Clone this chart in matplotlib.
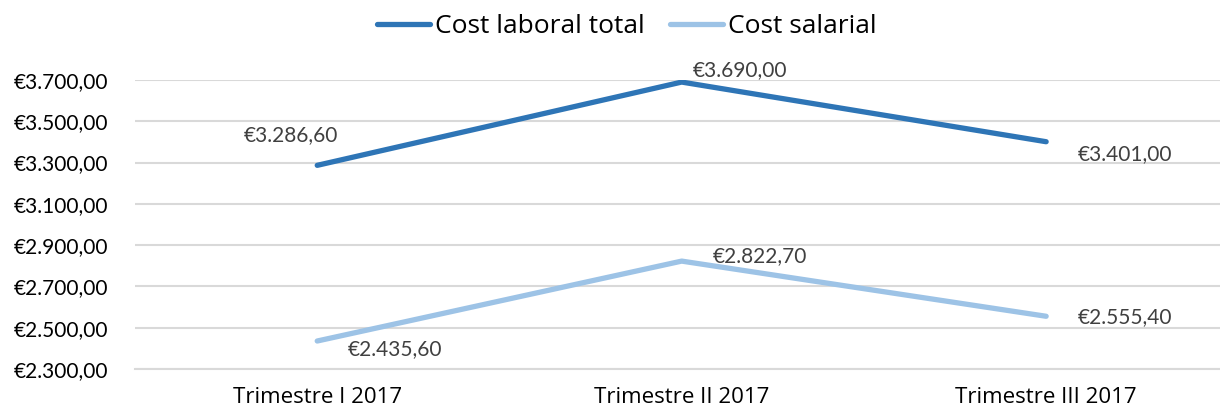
import matplotlib.pyplot as plt
from matplotlib.ticker import FuncFormatter

# ----------------------------
# Data
# ----------------------------
quarters = ["Trimestre I 2017", "Trimestre II 2017", "Trimestre III 2017"]
cost_laboral = [3286.60, 3690.00, 3401.00]
cost_salarial = [2435.60, 2822.70, 2555.40]
series_names = ["Cost laboral total", "Cost salarial"]

# label offsets in pixels (dx, dy) for each point
offsets_laboral = [(-26, 30), (58, 12), (79, -12)]
offsets_salarial = [(78, -8), (78, 5), (79, -1)]

DARK = "#2E75B6"
LIGHT = "#9DC3E6"
NUM_FONT = ["Lato", "DejaVu Sans"]


def euro(v, pos=None):
    s = f"{v:,.2f}"  # 3,286.60
    s = s.replace(",", "X").replace(".", ",").replace("X", ".")
    return "€" + s


plt.rcParams["font.family"] = ["Open Sans", "DejaVu Sans"]

fig = plt.figure(figsize=(12.2, 4.09), dpi=100)
ax = fig.add_axes([135 / 1220, 1 - 369 / 409, 1085 / 1220, (369 - 80) / 409])

x = range(len(quarters))
l1, = ax.plot(x, cost_laboral, color=DARK, lw=3.8, solid_capstyle="round", label=series_names[0])
l2, = ax.plot(x, cost_salarial, color=LIGHT, lw=3.8, solid_capstyle="round", label=series_names[1])

for xs, ys, offs in [(x, cost_laboral, offsets_laboral), (x, cost_salarial, offsets_salarial)]:
    for xi, yi, (dx, dy) in zip(xs, ys, offs):
        ax.annotate(euro(yi), (xi, yi), xytext=(dx, dy), textcoords="offset pixels",
                    ha="center", va="center", fontsize=15, color="#404040",
                    family=NUM_FONT)

ax.set_xlim(-0.5, 2.477)
ax.set_ylim(2300, 3700)
ax.set_yticks(range(2300, 3701, 200))
ax.yaxis.set_major_formatter(FuncFormatter(euro))
ax.set_xticks(list(x))
ax.set_xticklabels(quarters, fontsize=16)
for lab in ax.get_yticklabels():
    lab.set_fontsize(15)
    lab.set_family(NUM_FONT)

ax.grid(axis="y", color="#D9D9D9", lw=1.5)
ax.set_axisbelow(True)
for side in ["top", "right", "left"]:
    ax.spines[side].set_visible(False)
ax.spines["bottom"].set_color("#D9D9D9")
ax.spines["bottom"].set_linewidth(1.5)
ax.tick_params(axis="x", length=0, pad=13, colors="black")
ax.tick_params(axis="y", length=0, pad=19, colors="black")

fig.legend(handles=[l1, l2], loc="center", bbox_to_anchor=(0.514, 0.934), ncol=2,
           frameon=False, fontsize=19, handlelength=2.0, handletextpad=0.2, columnspacing=0.95)

fig.savefig("out.png", dpi=100)
